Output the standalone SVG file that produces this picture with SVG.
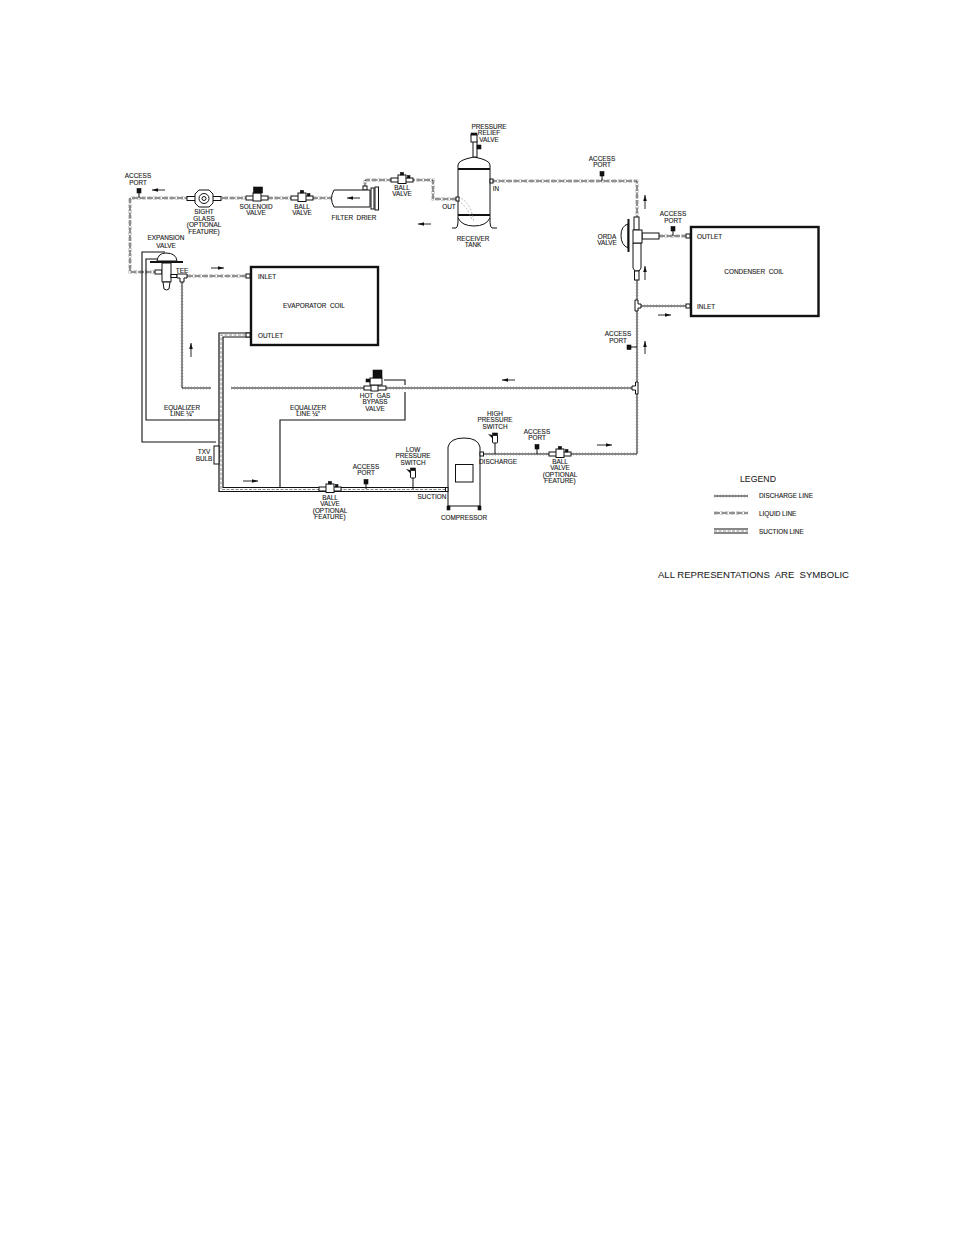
<svg xmlns="http://www.w3.org/2000/svg" width="954" height="1235" viewBox="0 0 954 1235">
<style>
text{font-family:"Liberation Sans",Arial,sans-serif;font-size:6.4px;fill:#1a1a1a;text-anchor:middle;white-space:pre;stroke:#1a1a1a;stroke-width:.12}
.l{text-anchor:start}
.big{font-size:9.5px;stroke-width:.05}
.o{fill:#fff;stroke:#111;stroke-width:1}
.k{fill:#111;stroke:#111;stroke-width:.6}
.t{fill:none;stroke:#111;stroke-width:1}
.coil{fill:#fff;stroke:#111;stroke-width:2.4}
.band{fill:none;stroke:#111;stroke-width:2}
.d1{fill:none;stroke:#999;stroke-width:4;stroke-dasharray:.8 2.2}
.d2{fill:none;stroke:#fff;stroke-width:3.2}
.d3{fill:none;stroke:#111;stroke-width:1}
.q1{fill:none;stroke:#aaa;stroke-width:3;stroke-dasharray:4 1.5}
.q2{fill:none;stroke:#fff;stroke-width:1.8}
.q3{fill:none;stroke:#222;stroke-width:1;stroke-dasharray:6 1.5}
.s1{fill:none;stroke:#111;stroke-width:5.2}
.s2{fill:none;stroke:#fff;stroke-width:2.8}
.s3{fill:none;stroke:#888;stroke-width:1;stroke-dasharray:3 1.5}
.e{fill:none;stroke:#111;stroke-width:1.1}
.a{fill:none;stroke:#111;stroke-width:.9;marker-end:url(#ah)}
.c{fill:none;stroke:#999;stroke-width:.7;stroke-dasharray:2 1.5}
</style>
<defs>
<marker id="ah" markerWidth="7" markerHeight="5" refX="6" refY="2.5" orient="auto" markerUnits="userSpaceOnUse"><path d="M0 .7L6 2.5L0 4.3z" fill="#111"/></marker>
<path id="p-liq1" d="M491 181H637V217"/>
<path id="p-liq2" d="M456 199H433V180H365V187"/>
<path id="p-liq3" d="M333 198H130V272H155"/>
<path id="p-liq4" d="M187 276H246"/>
<path id="p-liq5" d="M659 236H688"/>
<path id="p-dis1" d="M483 454H637V280"/>
<path id="p-dis2" d="M641 306H688"/>
<path id="p-dis3" d="M182 280V388H211"/>
<path id="p-dis4" d="M231 388H633"/>
<path id="p-suc" d="M250 335H221V489.500H447"/>
<path id="p-leg1" d="M714 496H748"/>
<path id="p-leg2" d="M714 513H748"/>
<path id="p-leg3" d="M714 531H748"/>
<g id="port"><rect class="k" x="-2" y="-2.500" width="4" height="4.500"/><path class="t" d="M0 2V7"/></g>
<g id="ball"><rect class="o" x="-11" y="-2" width="22" height="4"/><rect class="o" x="-4" y="-5" width="8" height="8.500"/><rect class="k" x="-1.600" y="-7.500" width="3.200" height="2.500"/><rect class="k" x="5.500" y="-4.500" width="2.500" height="2.500"/></g>
<g id="sw"><rect class="o" x="-2.500" y="-4" width="5" height="8" rx="1"/><rect class="k" x="-2.500" y="-6" width="5" height="2.400"/><path class="t" d="M0 4V15"/><path d="M-7 -5L-3 -4L-3 -1z" fill="#111"/></g>
</defs>

<g id="connectors">
<g id="liquid-lines">
<use href="#p-liq1" class="q1"/><use href="#p-liq1" class="q2"/><use href="#p-liq1" class="q3"/>
<use href="#p-liq2" class="q1"/><use href="#p-liq2" class="q2"/><use href="#p-liq2" class="q3"/>
<use href="#p-liq3" class="q1"/><use href="#p-liq3" class="q2"/><use href="#p-liq3" class="q3"/>
<use href="#p-liq4" class="q1"/><use href="#p-liq4" class="q2"/><use href="#p-liq4" class="q3"/>
<use href="#p-liq5" class="q1"/><use href="#p-liq5" class="q2"/><use href="#p-liq5" class="q3"/>
</g>
<g id="discharge-lines">
<use href="#p-dis1" class="d1"/><use href="#p-dis1" class="d2"/><use href="#p-dis1" class="d3"/>
<use href="#p-dis2" class="d1"/><use href="#p-dis2" class="d2"/><use href="#p-dis2" class="d3"/>
<use href="#p-dis3" class="d1"/><use href="#p-dis3" class="d2"/><use href="#p-dis3" class="d3"/>
<use href="#p-dis4" class="d1"/><use href="#p-dis4" class="d2"/><use href="#p-dis4" class="d3"/>
</g>
<g id="equalizer-lines">
<path class="e" d="M216 442H142V252H165"/>
<path class="e" d="M219 420H146V259H158"/>
<path class="e" d="M280 488V420H405V392M405 385V380H384"/>
</g>
<g id="suction-line">
<use href="#p-suc" class="s1"/><use href="#p-suc" class="s2"/><use href="#p-suc" class="s3"/>
</g>
<g id="flow-arrows">
<path class="a" d="M165 190H152"/>
<path class="a" d="M431 224H418"/>
<path class="a" d="M645 209V195"/>
<path class="a" d="M645 280V266"/>
<path class="a" d="M645 354V341"/>
<path class="a" d="M658 315H671"/>
<path class="a" d="M211 268H224"/>
<path class="a" d="M191 357V343"/>
<path class="a" d="M243 481H258"/>
<path class="a" d="M515 380H502"/>
<path class="a" d="M597 445H612"/>
</g>
</g>

<g id="access-port-1"><use href="#port" x="139" y="191"/><text x="138" y="178">ACCESS</text><text x="138" y="185">PORT</text></g>
<g id="sight-glass">
<rect class="o" x="187" y="196.500" width="34" height="4"/>
<path class="o" d="M199 190H209L213 194V203L209 207H199L195 203V194z"/>
<circle class="o" cx="204" cy="198.500" r="5"/><circle class="o" cx="204" cy="198.500" r="2"/>
<text x="204" y="214">SIGHT</text><text x="204" y="220.500">GLASS</text><text x="204" y="227">(OPTIONAL</text><text x="204" y="233.500">FEATURE)</text>
</g>
<g id="solenoid-valve">
<rect class="o" x="246" y="196" width="22" height="4"/><rect class="o" x="253" y="193" width="8" height="8"/><rect class="k" x="253.500" y="187" width="9" height="6"/>
<text x="256" y="208.500">SOLENOID</text><text x="256" y="215">VALVE</text>
</g>
<g id="ball-valve-1"><use href="#ball" x="302" y="198"/><text x="302" y="208.500">BALL</text><text x="302" y="215">VALVE</text></g>
<g id="filter-drier">
<rect class="o" x="363" y="186" width="4" height="4"/>
<path class="o" d="M334 190H370V207H334Q329 198.500 334 190z"/>
<path class="a" d="M360 198H347"/>
<rect class="o" x="371" y="188" width="3" height="21"/><rect class="o" x="375" y="187" width="3.500" height="23"/>
<text x="354" y="220">FILTER  DRIER</text>
</g>
<g id="ball-valve-2"><use href="#ball" x="402" y="180"/><text x="402" y="189.500">BALL</text><text x="402" y="196">VALVE</text></g>
<g id="receiver-tank">
<path class="t" d="M452 228H456Q458 227 458 222V165Q458 160 474 157Q490 160 490 165V222Q490 227 492 228H497"/>
<path class="t" d="M458 218Q462 226 474 226Q486 226 490 218"/>
<path class="band" d="M458 169H490M458 215H490"/>
<path class="c" d="M458 197Q470 200 474 222"/><path class="c" d="M458 201Q466 204 472 220"/>
<rect class="o" x="456" y="197" width="3" height="4"/><rect class="o" x="490" y="179" width="3" height="4"/>
<text x="449" y="208.500">OUT</text><text x="496" y="190.500">IN</text>
<text x="473" y="240.500">RECEIVER</text><text x="473" y="247">TANK</text>
</g>
<g id="pressure-relief-valve">
<rect class="o" x="473" y="141" width="4" height="16"/><rect class="k" x="471" y="133" width="6" height="3"/><rect class="o" x="471" y="135" width="6" height="7"/><rect class="k" x="477" y="145" width="4" height="4"/>
<text x="489" y="128.500">PRESSURE</text><text x="489" y="135">RELIEF</text><text x="489" y="141.500">VALVE</text>
</g>
<g id="access-port-2"><use href="#port" x="602" y="174"/><text x="602" y="160.500">ACCESS</text><text x="602" y="167">PORT</text></g>
<g id="orda-valve">
<path class="o" d="M628 224Q621 226 621 235.500Q621 245 628 248z"/>
<path class="band" d="M628.500 219V252"/>
<rect class="o" x="634" y="217" width="5" height="13"/>
<rect class="o" x="642" y="233" width="17" height="6"/>
<path class="o" d="M633 243H641V268L639 271H635L633 268z"/>
<rect class="o" x="633" y="230" width="9" height="13"/>
<rect class="o" x="634.500" y="271" width="4.500" height="9"/>
<text x="607" y="238.500">ORDA</text><text x="607" y="245">VALVE</text>
</g>
<g id="access-port-3"><use href="#port" x="673" y="229"/><text x="673" y="216">ACCESS</text><text x="673" y="222.500">PORT</text></g>
<g id="condenser-coil">
<rect class="coil" x="691" y="227" width="127.500" height="89"/>
<rect class="o" x="686" y="234" width="4" height="4"/><rect class="o" x="686" y="304" width="4" height="4"/>
<text class="l" x="697" y="238.500">OUTLET</text><text class="l" x="697" y="308.500">INLET</text>
<text x="754" y="273.500">CONDENSER  COIL</text>
</g>
<g id="condenser-inlet-tee"><path class="o" d="M635 300H638V304H641V308H638V311H635z"/></g>
<g id="access-port-4"><rect class="k" x="627" y="345" width="4" height="4.500"/><path class="t" d="M631 347H637"/><text x="618" y="336">ACCESS</text><text x="618" y="342.500">PORT</text></g>
<g id="hot-gas-tee"><path class="o" d="M638 382V394H635.500V390H632V386H635.500V382z"/></g>
<g id="expansion-valve">
<rect class="o" x="155" y="270" width="7" height="4"/>
<path class="o" d="M157 261Q158 253 166 253Q176 253 177 261z"/>
<path class="band" d="M150 262H183"/>
<path class="o" d="M162 263H171V282H162z"/>
<path class="o" d="M163 282H170L169 289Q166.500 291 164 289z"/>
<text x="166" y="240">EXPANSION</text><text x="166" y="247.500">VALVE</text>
</g>
<g id="tee"><rect class="o" x="171" y="274.500" width="6" height="3"/><path class="o" d="M177 274H187V278H184V282H180V278H177z"/><text x="182" y="273">TEE</text></g>
<g id="evaporator-coil">
<rect class="coil" x="251" y="267" width="127" height="78"/>
<rect class="o" x="246" y="274" width="4" height="4"/><rect class="o" x="246" y="333" width="4" height="4"/>
<text class="l" x="258" y="278.500">INLET</text><text class="l" x="258" y="337.500">OUTLET</text>
<text x="314" y="307.500">EVAPORATOR  COIL</text>
</g>
<g id="hot-gas-bypass-valve">
<rect class="o" x="364" y="386" width="22" height="4"/><rect class="o" x="371" y="385" width="7" height="6"/>
<rect class="o" x="370" y="378" width="12" height="7"/><rect class="k" x="373" y="370" width="9" height="8"/><rect class="k" x="366" y="379" width="4" height="3"/>
<text x="375" y="397.500">HOT  GAS</text><text x="375" y="404">BYPASS</text><text x="375" y="410.500">VALVE</text>
</g>
<g id="equalizer-label-1"><text x="182" y="409.500">EQUALIZER</text><text x="182" y="416">LINE ¼"</text></g>
<g id="equalizer-label-2"><text x="308" y="409.500">EQUALIZER</text><text x="308" y="416">LINE ¼"</text></g>
<g id="txv-bulb"><rect class="o" x="214" y="446" width="5" height="18"/><text x="204" y="454">TXV</text><text x="204" y="460.500">BULB</text></g>
<g id="ball-valve-3"><use href="#ball" x="330" y="489"/><text x="330" y="499.500">BALL</text><text x="330" y="506">VALVE</text><text x="330" y="512.500">(OPTIONAL</text><text x="330" y="519">FEATURE)</text></g>
<g id="access-port-5"><use href="#port" x="366" y="482"/><text x="366" y="468.500">ACCESS</text><text x="366" y="475">PORT</text></g>
<g id="low-pressure-switch"><use href="#sw" x="413" y="474"/><text x="413" y="451.500">LOW</text><text x="413" y="458">PRESSURE</text><text x="413" y="464.500">SWITCH</text></g>
<g id="compressor">
<path class="o" d="M448 506V447Q450 438 464 438Q478 438 480 447V506z"/>
<rect class="t" x="455.500" y="464.500" width="17.500" height="17.500"/>
<rect class="k" x="447" y="506" width="3" height="4"/><rect class="k" x="478" y="506" width="3" height="4"/>
<rect class="o" x="480" y="452" width="3.500" height="4"/><rect class="o" x="445.500" y="487.500" width="2.500" height="4"/>
<text x="432" y="498.500">SUCTION</text><text x="498" y="463.500">DISCHARGE</text><text x="464" y="519.500">COMPRESSOR</text>
</g>
<g id="high-pressure-switch"><use href="#sw" x="495" y="439"/><text x="495" y="415.500">HIGH</text><text x="495" y="422">PRESSURE</text><text x="495" y="428.500">SWITCH</text></g>
<g id="access-port-6"><use href="#port" x="537" y="447"/><text x="537" y="433.500">ACCESS</text><text x="537" y="440">PORT</text></g>
<g id="ball-valve-4"><use href="#ball" x="560" y="454"/><text x="560" y="463.500">BALL</text><text x="560" y="470">VALVE</text><text x="560" y="476.500">(OPTIONAL</text><text x="560" y="483">FEATURE)</text></g>

<g id="legend">
<text class="big" x="758" y="481.500" textLength="36" lengthAdjust="spacingAndGlyphs">LEGEND</text>
<use href="#p-leg1" class="d1"/><use href="#p-leg1" class="d2"/><use href="#p-leg1" class="d3"/>
<use href="#p-leg2" class="q1"/><use href="#p-leg2" class="q2"/><use href="#p-leg2" class="q3"/>
<use href="#p-leg3" class="s1"/><use href="#p-leg3" class="s2"/><use href="#p-leg3" class="s3"/>
<text class="l" x="759" y="498">DISCHARGE LINE</text>
<text class="l" x="759" y="515.500">LIQUID LINE</text>
<text class="l" x="759" y="533.500">SUCTION LINE</text>
</g>
<g id="note"><text class="big l" x="658" y="578" textLength="191" lengthAdjust="spacingAndGlyphs">ALL REPRESENTATIONS  ARE  SYMBOLIC</text></g>
</svg>
